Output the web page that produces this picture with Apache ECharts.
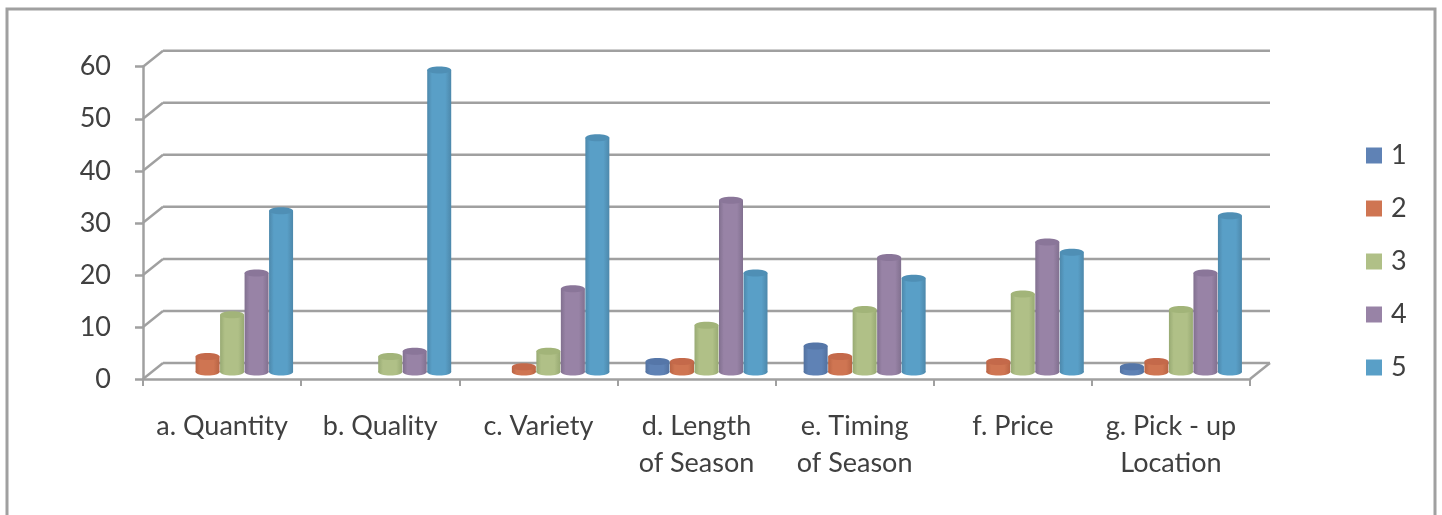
<!DOCTYPE html>
<html><head><meta charset="utf-8">
<style>html,body{margin:0;padding:0;background:#fff}#c{width:1442px;height:515px}</style>
<script src="https://cdn.jsdelivr.net/npm/echarts@6/dist/echarts.min.js"></script>
</head><body><div id="c"></div>
<script>
const categories = ['a. Quantity','b. Quality','c. Variety','d. Length\nof Season','e. Timing\nof Season','f. Price','g. Pick - up\nLocation'];
const seriesNames = ['1','2','3','4','5'];
const s1 = [null,null,null,2,5,null,1];
const s2 = [3,null,1,2,3,2,2];
const s3 = [11,3,4,9,12,15,12];
const s4 = [19,4,16,33,22,25,19];
const s5 = [31,58,45,19,18,23,30];
const yTicks = [0,10,20,30,40,50,60];
const colors = ['#5f82b5','#cf7552','#b0c087','#9883a6','#599fc7'];
const edges  = ['#52719f','#b96444','#98aa73','#81708f','#4d88ab'];
const tops   = ['#5576a8','#c4694a','#a2b479','#8a7699','#4f8fb5'];
const gridCol = '#a0a0a0';
const allValues = [s1,s2,s3,s4,s5];

const BAR_W = 24, STEP = 24.5, DX = 10, DY = -7, RY = 3.5, WX = 20, WY = -16;

function wallItem(params, api) {
  const v = api.value(0);
  const cs = params.coordSys;
  const p = api.coord([0, v]);
  const y = p[1];
  const left = cs.x, right = cs.x + cs.width;
  const style = {stroke: gridCol, lineWidth: 2.5, fill: null};
  const children = [
    {type:'line', shape:{x1:left,y1:y,x2:left+WX,y2:y+WY}, style},
    {type:'line', shape:{x1:left+WX,y1:y+WY,x2:right+WX,y2:y+WY}, style}
  ];
  if (v === 0) children.push({type:'line', shape:{x1:right,y1:y,x2:right+WX,y2:y+WY}, style});
  return {type:'group', children};
}

function cylinder(sIdx) {
  return function (params, api) {
    const v = api.value(1);
    if (v === null || v === undefined || isNaN(v)) return null;
    const base = api.coord([api.value(0), 0]);
    const top = api.coord([api.value(0), v]);
    const cx = base[0] + (sIdx - 2) * STEP + DX;
    const yb = base[1] + DY, yt = top[1] + DY;
    const x = cx - BAR_W / 2;
    const fill = new echarts.graphic.LinearGradient(0,0,1,0,[
      {offset:0,color:edges[sIdx]},
      {offset:0.2,color:colors[sIdx]},
      {offset:0.75,color:colors[sIdx]},
      {offset:1,color:edges[sIdx]}
    ]);
    return {type:'group', children:[
      {type:'ellipse', shape:{cx,cy:yb,rx:BAR_W/2,ry:RY}, style:{fill}},
      {type:'rect', shape:{x,y:yt,width:BAR_W,height:yb-yt}, style:{fill}},
      {type:'ellipse', shape:{cx,cy:yt,rx:BAR_W/2,ry:RY}, style:{fill:tops[sIdx]}}
    ]};
  };
}

const font = 'Lato';
const chart = echarts.init(document.getElementById('c'), null, {renderer:'canvas'});
chart.setOption({
  animation:false,
  backgroundColor:'#fff',
  graphic:[{type:'rect', silent:true, z:0, shape:{x:7,y:9,width:1428,height:540},
    style:{fill:null,stroke:gridCol,lineWidth:3}}],
  legend:{
    orient:'vertical', left:1361, top:137, itemWidth:16, itemHeight:16, itemGap:26,
    icon:'rect', data:seriesNames,
    textStyle:{fontFamily:font,fontSize:27,lineHeight:27,color:'#404040',padding:[0,0,0,4]}
  },
  grid:{left:143, right:192, top:66.7, bottom:136, containLabel:false},
  xAxis:{
    type:'category', data:categories,
    axisLine:{lineStyle:{color:gridCol,width:2.5}},
    axisTick:{show:true,length:7,alignWithLabel:false,lineStyle:{color:gridCol,width:2}},
    axisLabel:{interval:0,margin:29,fontFamily:font,fontSize:27,lineHeight:37,color:'#404040'},
    splitLine:{show:false}
  },
  yAxis:{
    type:'value', min:0, max:60, interval:10,
    axisLine:{show:true,lineStyle:{color:gridCol,width:2.5}},
    axisTick:{show:true,length:8,lineStyle:{color:gridCol,width:2.5}},
    axisLabel:{margin:32,fontFamily:font,fontSize:27,color:'#404040',padding:[0,0,5,0]},
    splitLine:{show:false}
  },
  series:[
    {type:'custom', name:'wall', silent:true, z:1, coordinateSystem:'cartesian2d',
     data:yTicks.map(v=>[v]), encode:{y:0}, renderItem:wallItem, clip:false},
    ...seriesNames.map((n,i)=>({
      type:'custom', name:n, z:3, coordinateSystem:'cartesian2d', clip:false,
      itemStyle:{color:colors[i]},
      data:allValues[i].map((v,j)=>[j,v]),
      encode:{x:0,y:1},
      renderItem:cylinder(i)
    }))
  ]
});
</script></body></html>
